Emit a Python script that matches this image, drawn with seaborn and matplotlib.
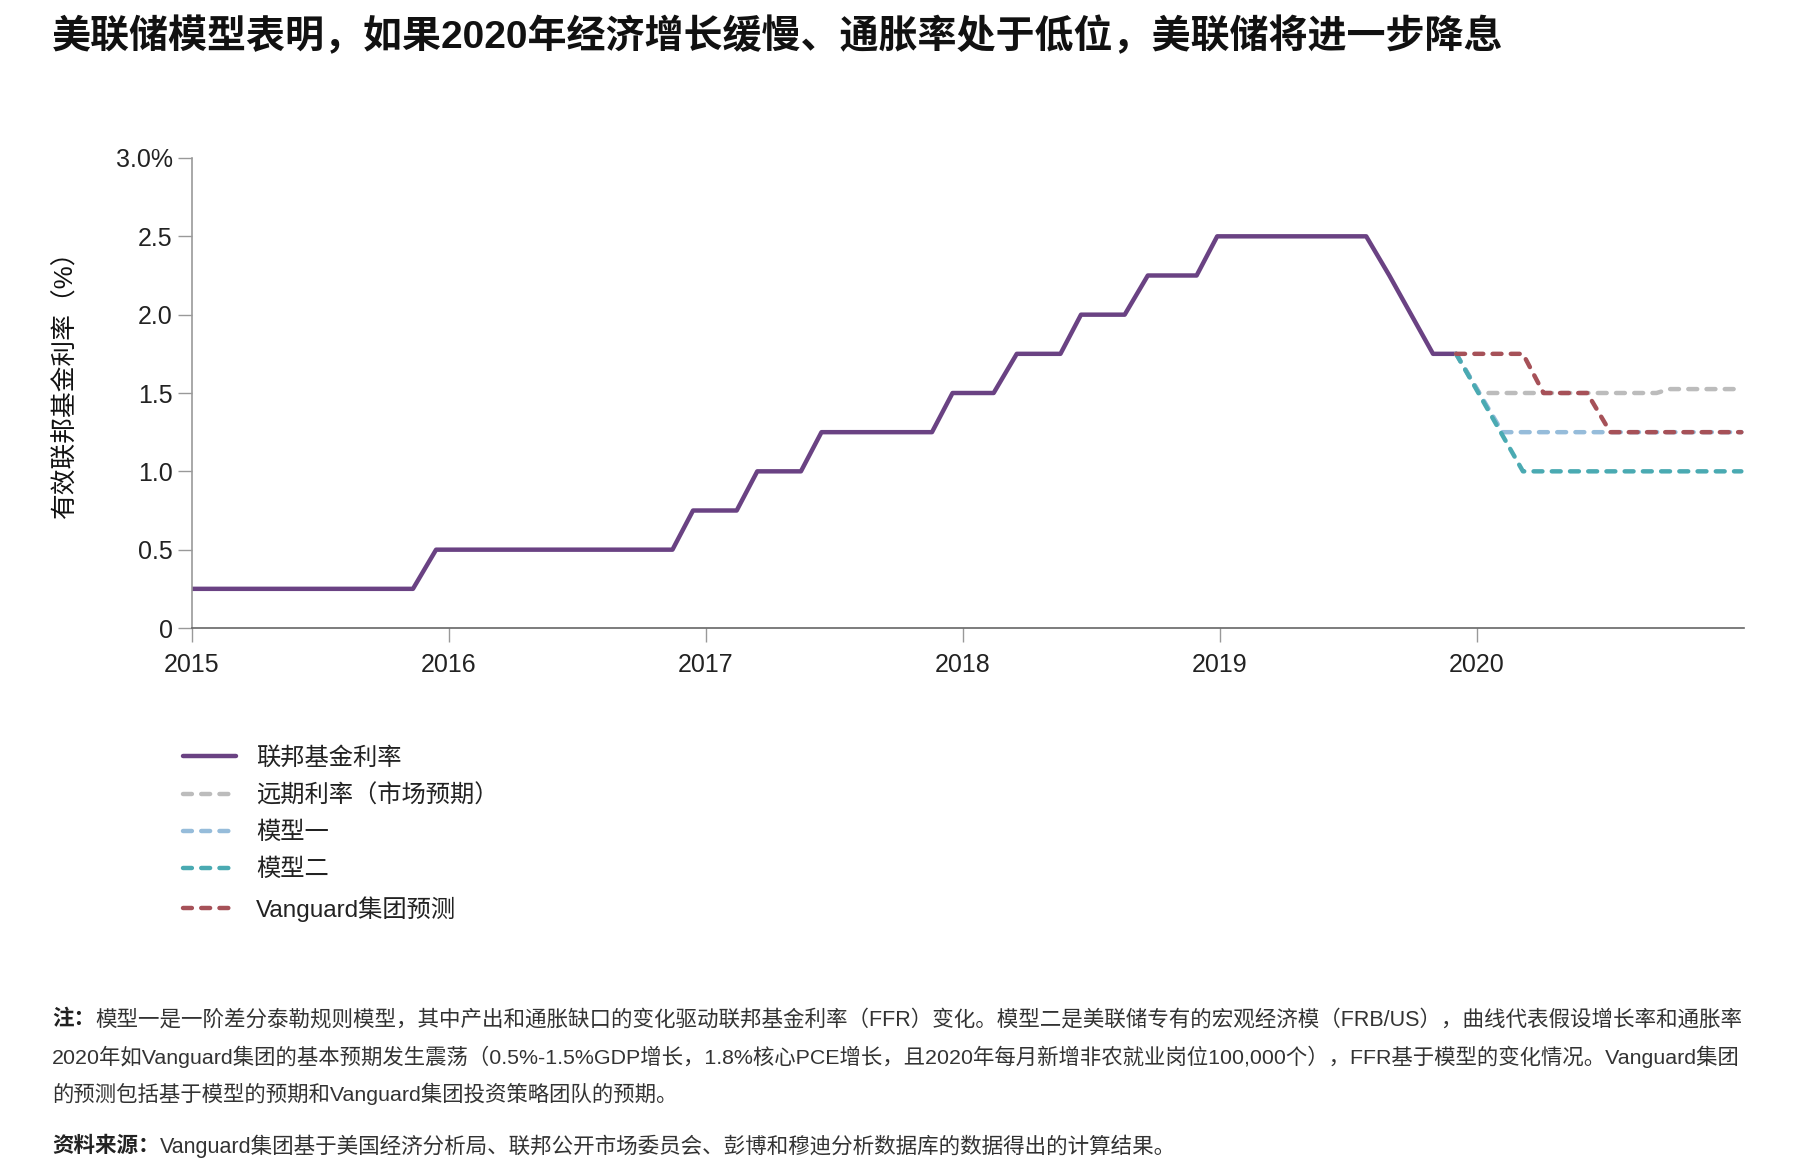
import pandas as pd
import seaborn as sns
import matplotlib.pyplot as plt
from matplotlib.lines import Line2D


# Effective fed funds rate
ffr_x = [2015.0, 2015.86, 2015.95, 2016.87, 2016.95, 2017.12, 2017.20, 2017.37,
         2017.45, 2017.88, 2017.96, 2018.12, 2018.21, 2018.38, 2018.46, 2018.63,
         2018.72, 2018.91, 2018.99, 2019.57, 2019.66, 2019.83, 2019.92]
ffr_y = [0.25, 0.25, 0.5, 0.5, 0.75, 0.75, 1.0, 1.0, 1.25, 1.25, 1.5, 1.5,
         1.75, 1.75, 2.0, 2.0, 2.25, 2.25, 2.5, 2.5, 2.25, 1.75, 1.75]

# Projections
fwd_x = [2019.92, 2020.01, 2020.70, 2020.75, 2021.03]
fwd_y = [1.75, 1.5, 1.5, 1.525, 1.525]
m1_x = [2019.92, 2020.10, 2021.03]
m1_y = [1.75, 1.25, 1.25]
m2_x = [2019.92, 2020.18, 2021.03]
m2_y = [1.75, 1.0, 1.0]
vg_x = [2019.92, 2020.18, 2020.26, 2020.43, 2020.52, 2021.03]
vg_y = [1.75, 1.75, 1.5, 1.5, 1.25, 1.25]

series_names = ['联邦基金利率', '远期利率（市场预期）', '模型一', '模型二', 'Vanguard集团预测']
colors = ['#6a4283', '#bcbcbc', '#96bcda', '#4aaab2', '#a65158']

x_ticks = [2015, 2016, 2017, 2018, 2019, 2020]
y_ticks = [0, 0.5, 1.0, 1.5, 2.0, 2.5, 3.0]
y_tick_labels = ['0', '0.5', '1.0', '1.5', '2.0', '2.5', '3.0%']

title = '美联储模型表明，如果2020年经济增长缓慢、通胀率处于低位，美联储将进一步降息'
ylabel = '有效联邦基金利率（%）'
note_lines = [
    '模型一是一阶差分泰勒规则模型，其中产出和通胀缺口的变化驱动联邦基金利率（FFR）变化。'
    '模型二是美联储专有的宏观经济模（FRB/US），曲线代表假设增长率和通胀率',
    '2020年如Vanguard集团的基本预期发生震荡（0.5%-1.5%GDP增长，1.8%核心PCE增长，'
    '且2020年每月新增非农就业岗位100,000个），FFR基于模型的变化情况。Vanguard集团',
    '的预测包括基于模型的预期和Vanguard集团投资策略团队的预期。',
]
source = 'Vanguard集团基于美国经济分析局、联邦公开市场委员会、彭博和穆迪分析数据库的数据得出的计算结果。'


def build_df():
    parts = []
    for name, xs, ys in zip(series_names,
                            [ffr_x, fwd_x, m1_x, m2_x, vg_x],
                            [ffr_y, fwd_y, m1_y, m2_y, vg_y]):
        parts.append(pd.DataFrame({'date': xs, 'rate': ys, 'series': name}))
    return pd.concat(parts, ignore_index=True)


sns.set_theme(style='white')
plt.rcParams['font.family'] = ['Liberation Sans', 'Noto Sans CJK SC']

df = build_df()
palette = dict(zip(series_names, colors))
dash = (2.0, 2.1)
dashes = {name: ('' if i == 0 else dash) for i, name in enumerate(series_names)}

fig = plt.figure(figsize=(17.96, 11.66), dpi=100)
ax = fig.add_axes([0.1069, 0.4614, 0.8641, 0.4031])

sns.lineplot(data=df, x='date', y='rate', hue='series', style='series',
             hue_order=series_names, style_order=series_names,
             palette=palette, dashes=dashes, linewidth=3.2,
             dash_capstyle='round', sort=False, estimator=None,
             legend=False, ax=ax)

ax.set_xlim(2015, 2021.04)
ax.set_ylim(0, 3.0)
ax.set_xticks(x_ticks)
ax.set_xticklabels([str(t) for t in x_ticks])
ax.set_yticks(y_ticks)
ax.set_yticklabels(y_tick_labels)
ax.set_xlabel('')
ax.set_ylabel('')
ax.tick_params(axis='both', labelsize=18, labelcolor='#222222',
               length=10, width=1, color='#999999', direction='out')
ax.tick_params(axis='y', pad=4, left=True)
ax.tick_params(axis='x', pad=8, bottom=True)
for side in ['top', 'right']:
    ax.spines[side].set_visible(False)
ax.spines['left'].set_color('#999999')
ax.spines['bottom'].set_color('#666666')
ax.spines['left'].set_linewidth(1.2)
ax.spines['bottom'].set_linewidth(1.2)

# Title and y label
fig.text(52 / 1796, 1 - 36 / 1166, title, fontsize=28.1, fontweight='bold',
         color='#111111', va='center', ha='left')
fig.text(65 / 1796, 1 - 378 / 1166, ylabel, fontsize=18.5, rotation=90,
         color='#111111', va='center', ha='center', fontweight='medium')

# Legend built by hand
handles = []
for i, (name, c) in enumerate(zip(series_names, colors)):
    if i == 0:
        handles.append(Line2D([], [], color=c, lw=3.2))
    else:
        handles.append(Line2D([], [], color=c, lw=3.2, dashes=dash,
                              dash_capstyle='round'))
fig.legend(handles, series_names, loc='upper left',
           bbox_to_anchor=(183 / 1796, 1 - 747 / 1166), frameon=False,
           fontsize=17.5, handlelength=2.2, handletextpad=0.8,
           labelspacing=0.6, borderpad=0, borderaxespad=0,
           labelcolor='#222222')

# Footnotes
note_y = [1020, 1057, 1094]
prefix = fig.text(52 / 1796, 1 - note_y[0] / 1166, '注：', fontsize=15.5,
                  fontweight='bold', color='#222222', va='center', ha='left')
ax.annotate(note_lines[0], xy=(1, 0.5), xycoords=prefix, va='center',
            ha='left', fontsize=15.5, color='#333333', annotation_clip=False)
for yy, line in zip(note_y[1:], note_lines[1:]):
    fig.text(52 / 1796, 1 - yy / 1166, line, fontsize=15.4, color='#333333',
             va='center', ha='left')

src = fig.text(52 / 1796, 1 - 1146 / 1166, '资料来源：', fontsize=15.5,
               fontweight='bold', color='#222222', va='center', ha='left')
ax.annotate(source, xy=(1, 0.5), xycoords=src, va='center', ha='left',
            fontsize=15.5, color='#333333', annotation_clip=False)

fig.savefig('out.png', dpi=100)
